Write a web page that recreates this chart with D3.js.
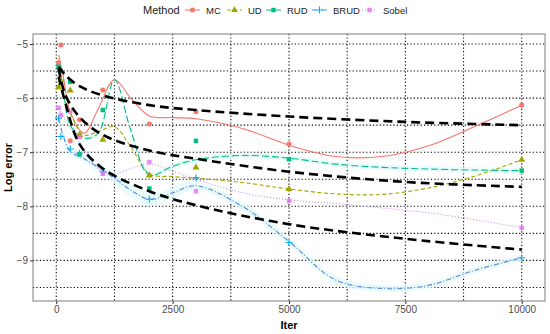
<!DOCTYPE html>
<html>
<head>
<meta charset="utf-8">
<script src="https://cdn.jsdelivr.net/npm/d3@7"></script>
<style>
  body { margin: 0; background: #fff; }
  text { font-family: "Liberation Sans", Arial, sans-serif; }
</style>
</head>
<body>
<svg class="chart" width="550" height="334"></svg>
<script>
// ---- data ----
var methods = ["MC", "UD", "RUD", "BRUD", "Sobel"];
var pointColors = ["#F8766D", "#A3A500", "#00BF7D", "#00B0F6", "#E76BF3"];
var lineColors = ["#F8766D", "#A3A500", "#00BF7D", "#5f7fe3", "#c48af2"];

var iters = [50, 100, 300, 500, 1000, 2000, 3000, 5000, 10000];
var mcPts = [-5.34, -5.02, -6.79, -6.40, -5.85, -6.48, -6.25, -6.85, -6.13];
var udPts = [-5.80, -5.67, -5.86, -6.68, -6.77, -7.43, -7.28, -7.68, -7.14];
var rudPts = [-5.42, -5.50, -5.70, -7.04, -6.22, -7.67, -6.79, -7.13, -7.34];
var brudPts = [-6.37, -6.71, -6.94, -7.02, -7.36, -7.87, -7.47, -8.67, -8.95];
var sobelPts = [-6.18, -6.31, -6.25, -6.72, -7.40, -7.18, -7.72, -7.90, -8.40];

// smoothed curves (read at these iterations)
var fitX = [50, 150, 300, 600, 900, 1250, 1600, 2000, 2500, 3000, 4000, 5000, 6000, 7000, 8000, 9000, 10000];
var mcFit = [-5.20, -5.60, -6.25, -6.65, -6.20, -5.66, -6.00, -6.33, -6.36, -6.38, -6.56, -6.87, -7.08, -7.08, -6.88, -6.52, -6.13];
var udFit = [-5.73, -5.95, -6.28, -6.68, -6.62, -6.53, -6.90, -7.40, -7.45, -7.48, -7.56, -7.68, -7.77, -7.78, -7.66, -7.44, -7.14];
var rudFit = [-5.42, -5.85, -6.50, -6.74, -6.65, -5.66, -6.59, -7.42, -7.26, -7.14, -7.06, -7.11, -7.22, -7.28, -7.31, -7.33, -7.34];
var brudFit = [-6.37, -6.70, -6.98, -7.12, -7.28, -7.48, -7.70, -7.87, -7.75, -7.62, -8.00, -8.65, -9.36, -9.52, -9.46, -9.18, -8.95];
var sobelFit = [-6.18, -6.35, -6.55, -6.95, -7.30, -7.40, -7.30, -7.22, -7.35, -7.50, -7.75, -7.88, -7.95, -8.03, -8.12, -8.25, -8.39];
var brudBand = [0.10, 0.08, 0.07, 0.07, 0.08, 0.10, 0.12, 0.12, 0.10, 0.08, 0.07, 0.07, 0.07, 0.06, 0.06, 0.06, 0.06];
var rudBand = [0.05, 0.05, 0.05, 0.05, 0.05, 0.05, 0.05, 0.05, 0.05, 0.05, 0.05, 0.05, 0.05, 0.05, 0.05, 0.05, 0.05];

// black dashed trend lines
var trendX = [50, 200, 500, 1000, 2000, 3000, 5000, 7500, 10000];
var trendTop = [-5.42, -5.58, -5.78, -5.95, -6.13, -6.22, -6.34, -6.44, -6.50];
var trendMid = [-5.45, -5.95, -6.35, -6.68, -6.97, -7.12, -7.36, -7.55, -7.64];
var trendLow = [-5.60, -6.10, -6.85, -7.30, -7.72, -7.98, -8.33, -8.60, -8.80];

var xTicks = [0, 2500, 5000, 7500, 10000];
var xMinor = [1250, 3750, 6250, 8750];
var yTicks = [-9, -8, -7, -6, -5];
var yMinor = [-9.5, -8.5, -7.5, -6.5, -5.5];

var pts = [mcPts, udPts, rudPts, brudPts, sobelPts];
var fits = [mcFit, udFit, rudFit, brudFit, sobelFit];
var dashes = [null, "4,2.5", "7,3", "5,2,1,2", "1,2"];
var shapes = [d3.symbolCircle, d3.symbolTriangle, d3.symbolSquare, null, d3.symbolSquare];

var panel = { left: 33, right: 545, top: 34, bottom: 301 };

var chart = d3.select(".chart");

var x = d3.scaleLinear()
    .domain([-500, 10500])
    .range([panel.left, panel.right]);

var y = d3.scaleLinear()
    .domain([-9.75, -4.815])
    .range([panel.bottom, panel.top]);

// grid
var grid = chart.append("g").attr("class", "grid");
xTicks.concat(xMinor).forEach(function (v) {
    grid.append("line")
        .attr("x1", x(v)).attr("x2", x(v))
        .attr("y1", panel.top).attr("y2", panel.bottom)
        .style("stroke", "#000")
        .style("stroke-width", 1.1)
        .style("stroke-dasharray", "1.2,2.2");
});
yTicks.concat(yMinor).forEach(function (v) {
    grid.append("line")
        .attr("y1", y(v)).attr("y2", y(v))
        .attr("x1", panel.left).attr("x2", panel.right)
        .style("stroke", "#000")
        .style("stroke-width", 1.1)
        .style("stroke-dasharray", "1.2,2.2");
});

var curve = d3.curveCatmullRom.alpha(0.5);

// ribbons
function band(vals, half) {
    return d3.area()
        .x(function (d, i) { return x(fitX[i]); })
        .y0(function (d, i) { return y(vals[i] - half[i]); })
        .y1(function (d, i) { return y(vals[i] + half[i]); })
        .curve(curve)(fitX);
}
chart.append("path").attr("d", band(rudFit, rudBand))
    .style("fill", "#e2fbfb").style("opacity", 0.75);
chart.append("path").attr("d", band(brudFit, brudBand))
    .style("fill", "#e2fbfb").style("opacity", 0.75);

// smooth lines
fits.forEach(function (f, k) {
    var line = d3.line()
        .x(function (d, i) { return x(fitX[i]); })
        .y(function (d) { return y(d); })
        .curve(curve);
    chart.append("path")
        .attr("d", line(f))
        .style("fill", "none")
        .style("stroke", lineColors[k])
        .style("stroke-width", 1.1)
        .style("stroke-dasharray", dashes[k]);
});

// points
function drawPoint(g, k, cx, cy, size) {
    if (shapes[k] == null) {
        g.append("path")
            .attr("d", "M" + (cx - 3.5) + "," + cy + "h7M" + cx + "," + (cy - 3.5) + "v7")
            .style("stroke", pointColors[k])
            .style("stroke-width", 1.1);
    } else {
        g.append("path")
            .attr("d", d3.symbol().type(shapes[k]).size(size)())
            .attr("transform", "translate(" + cx + "," + cy + ")")
            .style("fill", pointColors[k])
            .style("opacity", k == 4 ? 0.8 : 1);
    }
}
var pg = chart.append("g");
pts.forEach(function (p, k) {
    p.forEach(function (v, i) {
        drawPoint(pg, k, x(iters[i]), y(v), k == 1 ? 22 : 20);
    });
});

// black dashed trends
[trendTop, trendMid, trendLow].forEach(function (t) {
    var line = d3.line()
        .x(function (d, i) { return x(trendX[i]); })
        .y(function (d) { return y(d); })
        .curve(curve);
    chart.append("path")
        .attr("d", line(t))
        .style("fill", "none")
        .style("stroke", "#000")
        .style("stroke-width", 2.6)
        .style("stroke-dasharray", "9,5");
});

// panel border
chart.append("rect")
    .attr("x", panel.left).attr("y", panel.top)
    .attr("width", panel.right - panel.left)
    .attr("height", panel.bottom - panel.top)
    .style("fill", "none")
    .style("stroke", "#7f7f7f")
    .style("stroke-width", 1);

// axes
var xAxis = d3.axisBottom(x).tickValues(xTicks).tickSize(3).tickPadding(2)
    .tickFormat(d3.format("d"));
chart.append("g")
    .attr("transform", "translate(0," + panel.bottom + ")")
    .call(xAxis)
    .call(function (g) {
        g.select(".domain").remove();
        g.selectAll("line").style("stroke", "#333");
        g.selectAll("text").style("font-size", "10px").style("fill", "#4d4d4d")
            .style("font-family", "Liberation Sans, Arial, sans-serif");
    });

var yAxis = d3.axisLeft(y).tickValues(yTicks).tickSize(3).tickPadding(2)
    .tickFormat(function (d) { return "\u2212" + Math.abs(d); });
chart.append("g")
    .attr("transform", "translate(" + panel.left + ",0)")
    .call(yAxis)
    .call(function (g) {
        g.select(".domain").remove();
        g.selectAll("line").style("stroke", "#333");
        g.selectAll("text").style("font-size", "10px").style("fill", "#4d4d4d")
            .style("font-family", "Liberation Sans, Arial, sans-serif");
    });

chart.append("text")
    .attr("x", (panel.left + panel.right) / 2)
    .attr("y", 329)
    .attr("text-anchor", "middle")
    .style("font-size", "11px")
    .style("font-weight", "bold")
    .text("Iter");

chart.append("text")
    .attr("transform", "translate(12," + (panel.top + panel.bottom) / 2 + ") rotate(-90)")
    .attr("text-anchor", "middle")
    .style("font-size", "11px")
    .style("font-weight", "bold")
    .text("Log error");

// legend
var legend = chart.append("g");
legend.append("text")
    .attr("x", 143).attr("y", 14)
    .style("font-size", "11px")
    .style("fill", "#222")
    .text("Method");
var keyX = [185, 227, 266, 312, 362];
methods.forEach(function (m, k) {
    var kx = keyX[k];
    legend.append("line")
        .attr("x1", kx).attr("x2", kx + 15)
        .attr("y1", 10).attr("y2", 10)
        .style("stroke", lineColors[k])
        .style("stroke-width", 1.1)
        .style("stroke-dasharray", dashes[k]);
    drawPoint(legend, k, kx + 7.5, 10, 20);
    legend.append("text")
        .attr("x", kx + 21).attr("y", 13.5)
        .style("font-size", "9.5px")
        .style("fill", "#222")
        .text(m);
});
</script>
</body>
</html>
